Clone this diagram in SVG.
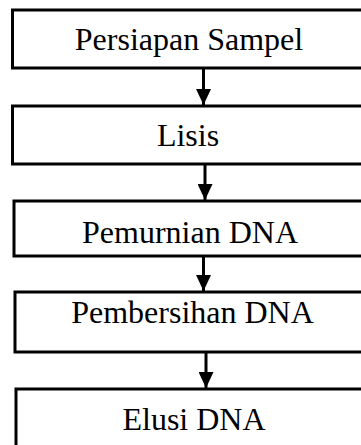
<svg xmlns="http://www.w3.org/2000/svg" width="361" height="445" viewBox="0 0 361 445">
  <style>
    .box { fill: #ffffff; stroke: #000000; stroke-width: 3; }
    .label { font-family: "Liberation Serif", "Times New Roman", serif; font-size: 32px; fill: #000000; text-anchor: middle; }
    .link { stroke: #000000; stroke-width: 3; fill: none; }
  </style>
  <defs>
    <marker id="arrowhead" viewBox="0 0 16 15" refX="16" refY="7.5" markerWidth="16" markerHeight="15" markerUnits="userSpaceOnUse" orient="auto">
      <path d="M0,0 L16,7.5 L0,15 z" fill="#000000"/>
    </marker>
  </defs>
  <rect x="0" y="0" width="361" height="445" fill="#ffffff"/>

  <g id="node-persiapan-sampel">
    <rect class="box" x="12.5" y="10" width="360" height="58"/>
    <text class="label" x="189" y="50">Persiapan Sampel</text>
  </g>
  <g id="node-lisis">
    <rect class="box" x="12.5" y="106" width="360" height="58"/>
    <text class="label" x="188" y="146">Lisis</text>
  </g>
  <g id="node-pemurnian-dna">
    <rect class="box" x="14" y="201" width="360" height="55"/>
    <text class="label" x="190" y="243">Pemurnian DNA</text>
  </g>
  <g id="node-pembersihan-dna">
    <rect class="box" x="15" y="292" width="360" height="60"/>
    <text class="label" x="192.5" y="323">Pembersihan DNA</text>
  </g>
  <g id="node-elusi-dna">
    <rect class="box" x="16" y="389" width="360" height="70"/>
    <text class="label" x="194" y="430">Elusi DNA</text>
  </g>

  <g id="connectors">
    <line class="link" x1="203.5" y1="69" x2="203.5" y2="105" marker-end="url(#arrowhead)"/>
    <line class="link" x1="205" y1="165" x2="205" y2="200" marker-end="url(#arrowhead)"/>
    <line class="link" x1="203.5" y1="257" x2="203.5" y2="291" marker-end="url(#arrowhead)"/>
    <line class="link" x1="206" y1="353" x2="206" y2="388" marker-end="url(#arrowhead)"/>
  </g>
</svg>
